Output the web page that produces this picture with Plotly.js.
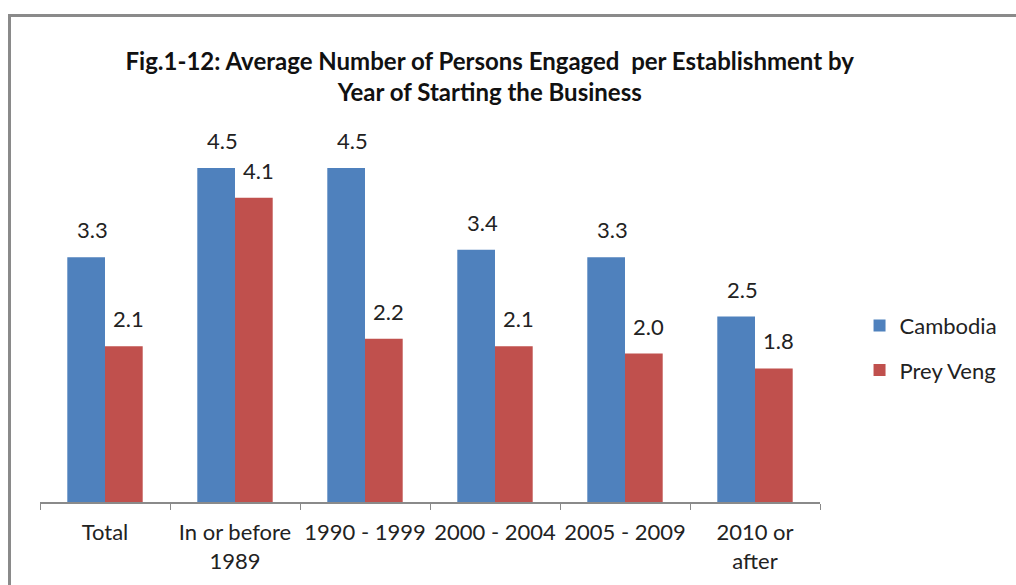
<!DOCTYPE html>
<html>
<head>
<meta charset="utf-8">
<script src="https://cdn.plot.ly/plotly-3.0.1.min.js"></script>
<style>
html,body{margin:0;padding:0;background:#fff;overflow:hidden;}
#frame{position:absolute;left:8px;top:14px;width:1100px;height:700px;border:3px solid #8a8a8a;pointer-events:none;z-index:5;}
#chart{position:absolute;left:0;top:0;width:1016px;height:585px;}
</style>
</head>
<body>
<div id="chart"></div>
<div id="frame"></div>
<script>
const categories = ["Total", "In or before<br>1989", "1990 - 1999", "2000 - 2004", "2005 - 2009", "2010 or<br>after"];
const cambodia = [3.3, 4.5, 4.5, 3.4, 3.3, 2.5];
const preyVeng = [2.1, 4.1, 2.2, 2.1, 2.0, 1.8];
const seriesNames = ["Cambodia", "Prey Veng"];

const FONT = "Lato, 'Liberation Sans', sans-serif";
const blue = "#4F81BD", red = "#C0504D";

const traces = [
  {type:"bar", name:seriesNames[0], x:categories, y:cambodia, marker:{color:blue}, legendgroup:"a", hoverinfo:"none"},
  {type:"bar", name:seriesNames[1], x:categories, y:preyVeng, marker:{color:red}, legendgroup:"b", hoverinfo:"none"}
];

const annotations = [];
categories.forEach((c,i)=>{
  annotations.push({x:c, y:cambodia[i], xref:"x", yref:"y", text:cambodia[i].toFixed(1), showarrow:false,
    xshift:-13, yshift:12, yanchor:"bottom", font:{family:FONT, size:22, color:"#222"}});
  annotations.push({x:c, y:preyVeng[i], xref:"x", yref:"y", text:preyVeng[i].toFixed(1), showarrow:false,
    xshift:23, yshift:12, yanchor:"bottom", font:{family:FONT, size:22, color:"#222"}});
});

const layout = {
  width:1016, height:585,
  margin:{l:40, r:196, t:131, b:83},
  paper_bgcolor:"rgba(0,0,0,0)", plot_bgcolor:"rgba(0,0,0,0)",
  title:{text:"<b>Fig.1-12: Average Number of Persons Engaged  per Establishment by</b><br><b>Year of Starting the Business</b>",
    xref:"container", yref:"container", x:0.482, xanchor:"center", y:1-70/585, yanchor:"middle",
    font:{family:FONT, size:24, color:"#111"}},
  barmode:"group", bargap:0.42, bargroupgap:0,
  showlegend:true,
  legend:{xref:"container", yref:"container", x:0.846, y:0.405, xanchor:"left", yanchor:"middle",
    font:{family:FONT, size:22, color:"#222"}, traceorder:"grouped", tracegroupgap:13, bgcolor:"rgba(0,0,0,0)"},
  xaxis:{type:"category", showline:true, linecolor:"#8a8a8a", linewidth:1.5, ticks:"outside", tickson:"boundaries",
    ticklen:6, tickcolor:"#8a8a8a", tickangle:0, tickfont:{family:FONT, size:22, color:"#222"}, showgrid:false, zeroline:false, ticklabelstandoff:10},
  yaxis:{range:[0,5], visible:false, showgrid:false, zeroline:false},
  annotations:annotations,
  font:{family:FONT}
};
Plotly.newPlot("chart", traces, layout, {staticPlot:true, displayModeBar:false});
</script>
</body>
</html>
